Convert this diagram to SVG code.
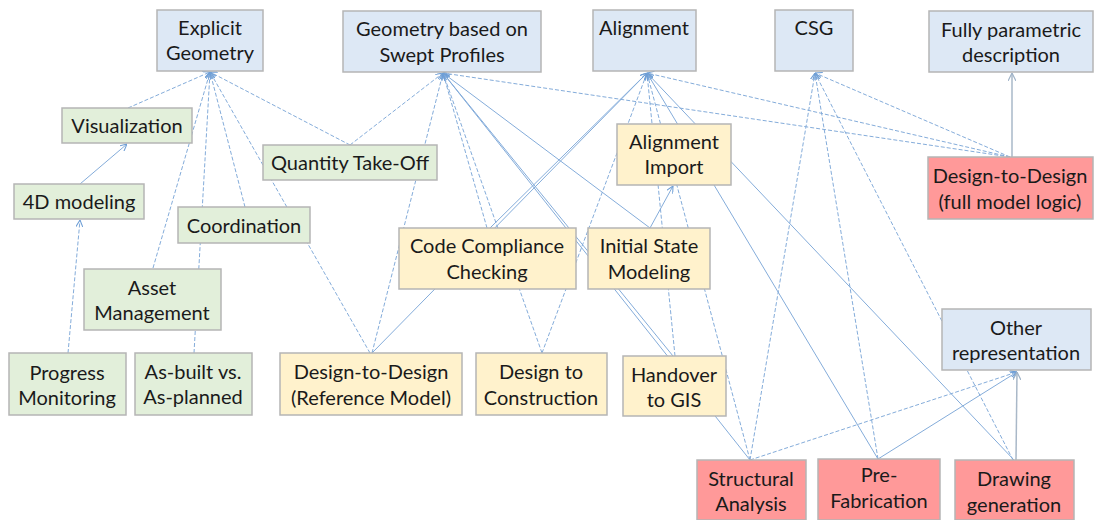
<svg xmlns="http://www.w3.org/2000/svg" width="1094" height="520" viewBox="0 0 1094 520">
<defs>
<marker id="arr" viewBox="0 0 8 8" refX="8" refY="4" markerWidth="7" markerHeight="7" markerUnits="userSpaceOnUse" orient="auto">
<path d="M0,0 L8,4 L0,8" fill="none" stroke="#6f9fd6" stroke-width="1.2"/>
</marker>
<marker id="arrg" viewBox="0 0 8 8" refX="8" refY="4" markerWidth="8" markerHeight="8" markerUnits="userSpaceOnUse" orient="auto">
<path d="M0,0 L8,4 L0,8" fill="none" stroke="#9fb3c8" stroke-width="1.2"/>
</marker>
</defs>
<style>
.c line{stroke:#84acda;stroke-width:1;fill:none;marker-end:url(#arr)}
.c line.d{stroke-dasharray:4 2}
.c line.g{stroke:#a9b8c8;stroke-width:1.5;marker-end:url(#arrg)}
.n rect{stroke:#b5b5b5;stroke-width:1.5}
.b rect{fill:#dde8f5}
.gr rect{fill:#e2efda}
.y rect{fill:#fff2cc}
.r rect{fill:#ff9999}
text{font-family:Lato,"Liberation Sans",sans-serif;font-size:20px;fill:#1a1a1a;text-anchor:middle}
</style>
<rect width="1094" height="520" fill="#ffffff"/>
<g id="connectors" class="c">
<line class="d" x1="128" y1="108" x2="210" y2="72"/>
<line class="d" x1="350" y1="145" x2="210" y2="72"/>
<line class="d" x1="153" y1="268" x2="210" y2="72"/>
<line class="d" x1="245" y1="207" x2="210" y2="72"/>
<line class="d" x1="194" y1="353" x2="210" y2="72"/>
<line class="d" x1="370" y1="353" x2="210" y2="72"/>
<line x1="80" y1="184" x2="127" y2="144"/>
<line class="d" x1="68" y1="353" x2="80" y2="220"/>
<line class="d" x1="350" y1="145" x2="443" y2="73"/>
<line class="d" x1="372" y1="353" x2="443" y2="73"/>
<line class="d" x1="487" y1="228" x2="443" y2="73"/>
<line class="d" x1="542" y1="353" x2="443" y2="73"/>
<line x1="650" y1="228" x2="443" y2="73"/>
<line x1="673" y1="356" x2="443" y2="73"/>
<line x1="750" y1="460" x2="443" y2="73"/>
<line class="d" x1="1010" y1="157" x2="443" y2="73"/>
<line x1="490" y1="228" x2="647" y2="73"/>
<line x1="372" y1="353" x2="647" y2="73"/>
<line class="d" x1="542" y1="353" x2="647" y2="73"/>
<line class="d" x1="675" y1="356" x2="647" y2="73"/>
<line class="d" x1="750" y1="460" x2="647" y2="73"/>
<line x1="878" y1="459" x2="647" y2="73"/>
<line x1="1014" y1="460" x2="647" y2="73"/>
<line class="d" x1="1010" y1="157" x2="647" y2="73"/>
<line x1="650" y1="228" x2="673" y2="186"/>
<line class="d" x1="750" y1="460" x2="815" y2="73"/>
<line class="d" x1="878" y1="459" x2="815" y2="73"/>
<line class="d" x1="1013" y1="460" x2="815" y2="73"/>
<line class="d" x1="1010" y1="157" x2="815" y2="73"/>
<line class="g" x1="1012" y1="157" x2="1012" y2="73"/>
<line class="d" x1="750" y1="460" x2="1017" y2="372"/>
<line x1="878" y1="459" x2="1017" y2="372"/>
<line class="g" x1="1016" y1="460" x2="1017" y2="372"/>
</g>
<g id="explicit-geometry" class="n b"><rect x="157" y="10" width="106" height="61"/><text x="210" y="35">Explicit</text><text x="210" y="60">Geometry</text></g>
<g id="swept-profiles" class="n b"><rect x="343" y="11" width="198" height="61"/><text x="442" y="36">Geometry based on</text><text x="442" y="62">Swept Profiles</text></g>
<g id="alignment" class="n b"><rect x="593" y="10" width="103" height="61"/><text x="644" y="35">Alignment</text></g>
<g id="csg" class="n b"><rect x="775" y="10" width="78" height="61"/><text x="814" y="35">CSG</text></g>
<g id="fully-parametric" class="n b"><rect x="929" y="11" width="164" height="61"/><text x="1011" y="37">Fully parametric</text><text x="1011" y="62">description</text></g>
<g id="other-representation" class="n b"><rect x="942" y="309" width="149" height="61"/><text x="1016" y="335">Other</text><text x="1016" y="360">representation</text></g>
<g id="visualization" class="n gr"><rect x="62" y="108" width="130" height="35"/><text x="127" y="133">Visualization</text></g>
<g id="quantity-take-off" class="n gr"><rect x="263" y="145" width="174" height="35"/><text x="350" y="170">Quantity Take-Off</text></g>
<g id="4d-modeling" class="n gr"><rect x="14" y="184" width="130" height="35"/><text x="79" y="209">4D modeling</text></g>
<g id="coordination" class="n gr"><rect x="178" y="207" width="132" height="36"/><text x="244" y="233">Coordination</text></g>
<g id="asset-management" class="n gr"><rect x="84" y="269" width="137" height="61"/><text x="152" y="295">Asset</text><text x="152" y="320">Management</text></g>
<g id="progress-monitoring" class="n gr"><rect x="9" y="353" width="117" height="62"/><text x="67" y="380">Progress</text><text x="67" y="405">Monitoring</text></g>
<g id="as-built" class="n gr"><rect x="135" y="353" width="117" height="62"/><text x="193" y="379">As-built vs.</text><text x="193" y="404">As-planned</text></g>
<g id="alignment-import" class="n y"><rect x="617" y="124" width="114" height="61"/><text x="674" y="149">Alignment</text><text x="674" y="174">Import</text></g>
<g id="code-compliance" class="n y"><rect x="399" y="228" width="177" height="61"/><text x="487" y="253">Code Compliance</text><text x="487" y="279">Checking</text></g>
<g id="initial-state" class="n y"><rect x="588" y="228" width="122" height="61"/><text x="649" y="253">Initial State</text><text x="649" y="279">Modeling</text></g>
<g id="dtd-reference" class="n y"><rect x="280" y="353" width="182" height="62"/><text x="371" y="379">Design-to-Design</text><text x="371" y="405">(Reference Model)</text></g>
<g id="design-construction" class="n y"><rect x="476" y="353" width="131" height="62"/><text x="541" y="379">Design to</text><text x="541" y="405">Construction</text></g>
<g id="handover-gis" class="n y"><rect x="623" y="356" width="103" height="60"/><text x="674" y="382">Handover</text><text x="674" y="407">to GIS</text></g>
<g id="dtd-full" class="n r"><rect x="928" y="157" width="165" height="62"/><text x="1010" y="183">Design-to-Design</text><text x="1010" y="209">(full model logic)</text></g>
<g id="structural-analysis" class="n r"><rect x="697" y="460" width="109" height="60"/><text x="751" y="486">Structural</text><text x="751" y="511">Analysis</text></g>
<g id="pre-fabrication" class="n r"><rect x="818" y="459" width="122" height="61"/><text x="879" y="482">Pre-</text><text x="879" y="508">Fabrication</text></g>
<g id="drawing-generation" class="n r"><rect x="955" y="460" width="119" height="60"/><text x="1014" y="486">Drawing</text><text x="1014" y="512">generation</text></g>
</svg>
